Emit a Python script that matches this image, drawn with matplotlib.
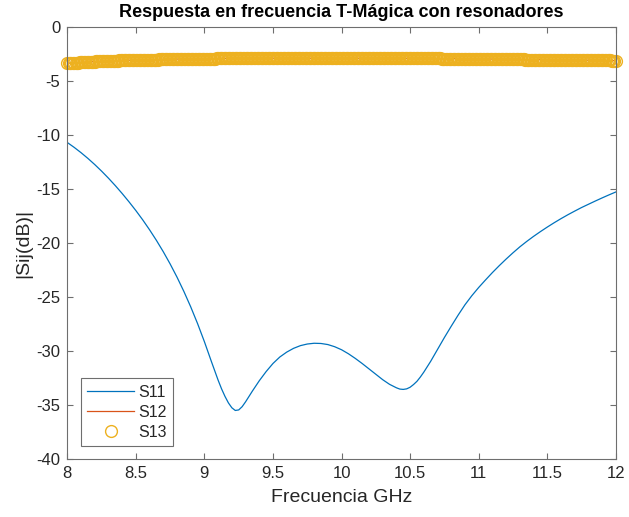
import numpy as np
import matplotlib.pyplot as plt

plt.rcParams['font.family'] = ['Liberation Sans', 'DejaVu Sans']
plt.rcParams['axes.unicode_minus'] = False

# S11 (dB) read along the sweep
s11_freq = [8.00, 8.05, 8.10, 8.15, 8.20, 8.25, 8.30, 8.35, 8.40, 8.45,
            8.50, 8.55, 8.60, 8.65, 8.70, 8.75, 8.80, 8.85, 8.90, 8.95,
            9.00, 9.05, 9.10, 9.125, 9.15, 9.175, 9.20, 9.225, 9.25, 9.275,
            9.30, 9.325, 9.35, 9.40, 9.45, 9.50, 9.55, 9.60, 9.65, 9.70,
            9.75, 9.80, 9.85, 9.90, 9.95, 10.00, 10.05, 10.10, 10.15, 10.20,
            10.25, 10.30, 10.35, 10.40, 10.425, 10.45, 10.475, 10.50, 10.525, 10.55,
            10.575, 10.60, 10.65, 10.70, 10.75, 10.80, 10.85, 10.90, 10.95, 11.00,
            11.05, 11.10, 11.15, 11.20, 11.25, 11.30, 11.35, 11.40, 11.45, 11.50,
            11.55, 11.60, 11.65, 11.70, 11.75, 11.80, 11.85, 11.90, 11.95, 12.00]
s11 = [-10.70, -11.15, -11.64, -12.17, -12.74, -13.35, -14.00, -14.69, -15.42, -16.19,
       -17.00, -17.86, -18.78, -19.76, -20.81, -21.94, -23.16, -24.48, -25.91, -27.46,
       -29.14, -30.94, -32.70, -33.50, -34.20, -34.80, -35.25, -35.50, -35.45, -35.15,
       -34.70, -34.20, -33.70, -32.75, -31.90, -31.15, -30.55, -30.10, -29.75, -29.50,
       -29.35, -29.28, -29.30, -29.40, -29.60, -29.88, -30.25, -30.68, -31.15, -31.65,
       -32.15, -32.65, -33.08, -33.40, -33.52, -33.55, -33.50, -33.35, -33.10, -32.80,
       -32.40, -31.95, -30.95, -29.85, -28.75, -27.70, -26.68, -25.72, -24.88, -24.12,
       -23.42, -22.74, -22.10, -21.49, -20.91, -20.36, -19.86, -19.39, -18.95, -18.53,
       -18.13, -17.75, -17.39, -17.05, -16.72, -16.42, -16.12, -15.83, -15.55, -15.28]

# S12 / S13 (dB), 401-point sweep from 8 to 12 GHz
sweep = np.linspace(8, 12, 401)
s13 = [
    -3.36, -3.35, -3.34, -3.34, -3.33, -3.32, -3.31, -3.30, -3.30, -3.29, -3.28, -3.27, -3.27, -3.26, -3.25, -3.24, -3.24, -3.23, -3.22, -3.22,
    -3.21, -3.20, -3.20, -3.19, -3.19, -3.18, -3.17, -3.17, -3.16, -3.16, -3.15, -3.15, -3.14, -3.14, -3.13, -3.13, -3.12, -3.12, -3.11, -3.11,
    -3.10, -3.10, -3.09, -3.09, -3.09, -3.08, -3.08, -3.08, -3.07, -3.07, -3.07, -3.06, -3.06, -3.06, -3.05, -3.05, -3.05, -3.04, -3.04, -3.04,
    -3.03, -3.03, -3.03, -3.02, -3.02, -3.02, -3.02, -3.01, -3.01, -3.01, -3.00, -3.00, -3.00, -3.00, -2.99, -2.99, -2.99, -2.99, -2.98, -2.98,
    -2.98, -2.98, -2.97, -2.97, -2.97, -2.97, -2.97, -2.96, -2.96, -2.96, -2.96, -2.96, -2.95, -2.95, -2.95, -2.95, -2.95, -2.94, -2.94, -2.94,
    -2.94, -2.94, -2.94, -2.93, -2.93, -2.93, -2.93, -2.93, -2.93, -2.92, -2.92, -2.92, -2.92, -2.92, -2.92, -2.92, -2.91, -2.91, -2.91, -2.91,
    -2.91, -2.91, -2.91, -2.91, -2.91, -2.90, -2.90, -2.90, -2.90, -2.90, -2.90, -2.90, -2.90, -2.90, -2.90, -2.90, -2.90, -2.90, -2.90, -2.90,
    -2.90, -2.90, -2.90, -2.90, -2.89, -2.89, -2.89, -2.89, -2.89, -2.89, -2.89, -2.89, -2.89, -2.89, -2.89, -2.89, -2.89, -2.89, -2.89, -2.89,
    -2.89, -2.89, -2.89, -2.89, -2.89, -2.89, -2.89, -2.89, -2.89, -2.89, -2.89, -2.89, -2.89, -2.89, -2.89, -2.89, -2.89, -2.89, -2.89, -2.89,
    -2.89, -2.89, -2.89, -2.89, -2.89, -2.89, -2.89, -2.89, -2.89, -2.89, -2.89, -2.89, -2.89, -2.89, -2.89, -2.89, -2.89, -2.89, -2.89, -2.89,
    -2.89, -2.89, -2.89, -2.89, -2.89, -2.89, -2.89, -2.89, -2.89, -2.89, -2.90, -2.90, -2.90, -2.90, -2.90, -2.90, -2.90, -2.90, -2.90, -2.90,
    -2.90, -2.90, -2.90, -2.90, -2.90, -2.90, -2.90, -2.90, -2.90, -2.90, -2.90, -2.90, -2.90, -2.90, -2.90, -2.90, -2.90, -2.90, -2.90, -2.90,
    -2.90, -2.90, -2.90, -2.90, -2.90, -2.90, -2.90, -2.90, -2.90, -2.90, -2.91, -2.91, -2.91, -2.91, -2.91, -2.91, -2.91, -2.91, -2.91, -2.91,
    -2.91, -2.91, -2.91, -2.91, -2.92, -2.92, -2.92, -2.92, -2.92, -2.92, -2.92, -2.92, -2.92, -2.93, -2.93, -2.93, -2.93, -2.93, -2.93, -2.93,
    -2.93, -2.93, -2.94, -2.94, -2.94, -2.94, -2.94, -2.94, -2.95, -2.95, -2.95, -2.95, -2.95, -2.95, -2.96, -2.96, -2.96, -2.96, -2.96, -2.96,
    -2.96, -2.96, -2.97, -2.97, -2.97, -2.97, -2.97, -2.97, -2.97, -2.98, -2.98, -2.98, -2.98, -2.98, -2.98, -2.99, -2.99, -2.99, -2.99, -2.99,
    -2.99, -2.99, -3.00, -3.00, -3.00, -3.00, -3.00, -3.00, -3.01, -3.01, -3.01, -3.01, -3.01, -3.01, -3.02, -3.02, -3.02, -3.02, -3.02, -3.02,
    -3.02, -3.02, -3.03, -3.03, -3.03, -3.03, -3.03, -3.03, -3.04, -3.04, -3.04, -3.04, -3.04, -3.04, -3.05, -3.05, -3.05, -3.05, -3.05, -3.05,
    -3.05, -3.05, -3.06, -3.06, -3.06, -3.06, -3.06, -3.06, -3.07, -3.07, -3.07, -3.07, -3.07, -3.07, -3.08, -3.08, -3.08, -3.08, -3.08, -3.08,
    -3.08, -3.08, -3.09, -3.09, -3.09, -3.09, -3.09, -3.10, -3.10, -3.10, -3.10, -3.10, -3.11, -3.11, -3.11, -3.11, -3.11, -3.12, -3.12, -3.12,
    -3.12,
]
s12 = list(s13)

xticks = [8, 8.5, 9, 9.5, 10, 10.5, 11, 11.5, 12]
xticklabels = ['8', '8.5', '9', '9.5', '10', '10.5', '11', '11.5', '12']
yticks = [-40, -35, -30, -25, -20, -15, -10, -5, 0]

c_s11 = '#0072BD'
c_s12 = '#D95319'
c_s13 = '#EDB120'
axcol = '#6e6e6e'
txtcol = '#262626'

fig = plt.figure(figsize=(6.29, 5.17), dpi=100)
ax = fig.add_axes([0.107, 0.112, 0.872, 0.836])

ax.plot(s11_freq, s11, color=c_s11, lw=0.9, label='S11')
ax.plot(sweep, s12, color=c_s12, lw=0.9, label='S12')
ax.plot(sweep, s13, 'o', color=c_s13, mfc='none', ms=8.5, mew=1.0,
        label='S13', clip_on=False)

ax.set_xlim(8, 12)
ax.set_ylim(-40, 0)
ax.set_xticks(xticks)
ax.set_xticklabels(xticklabels)
ax.set_yticks(yticks)

ax.tick_params(direction='in', length=4, width=0.8, colors=axcol,
               labelsize=12, top=True, right=True, pad=5)
ax.tick_params(labelcolor=txtcol)
for sp in ax.spines.values():
    sp.set_color(axcol)
    sp.set_linewidth(0.8)

ax.set_title('Respuesta en frecuencia T-Mágica con resonadores',
             fontsize=13, fontweight='bold', color='black', pad=7)
ax.set_xlabel('Frecuencia GHz', fontsize=14, color=txtcol, labelpad=6)
ax.set_ylabel('|Sij(dB)|', fontsize=14, color=txtcol, labelpad=3)

leg = ax.legend(loc='lower left', bbox_to_anchor=(0.025, 0.03), fontsize=11.5,
                numpoints=1, handlelength=2.9, handletextpad=0.3,
                borderpad=0.4, labelspacing=0.32, fancybox=False,
                edgecolor=axcol, framealpha=1, borderaxespad=0)
leg.get_frame().set_linewidth(0.8)
for t in leg.get_texts():
    t.set_color(txtcol)

fig.savefig('out.png', dpi=100)
